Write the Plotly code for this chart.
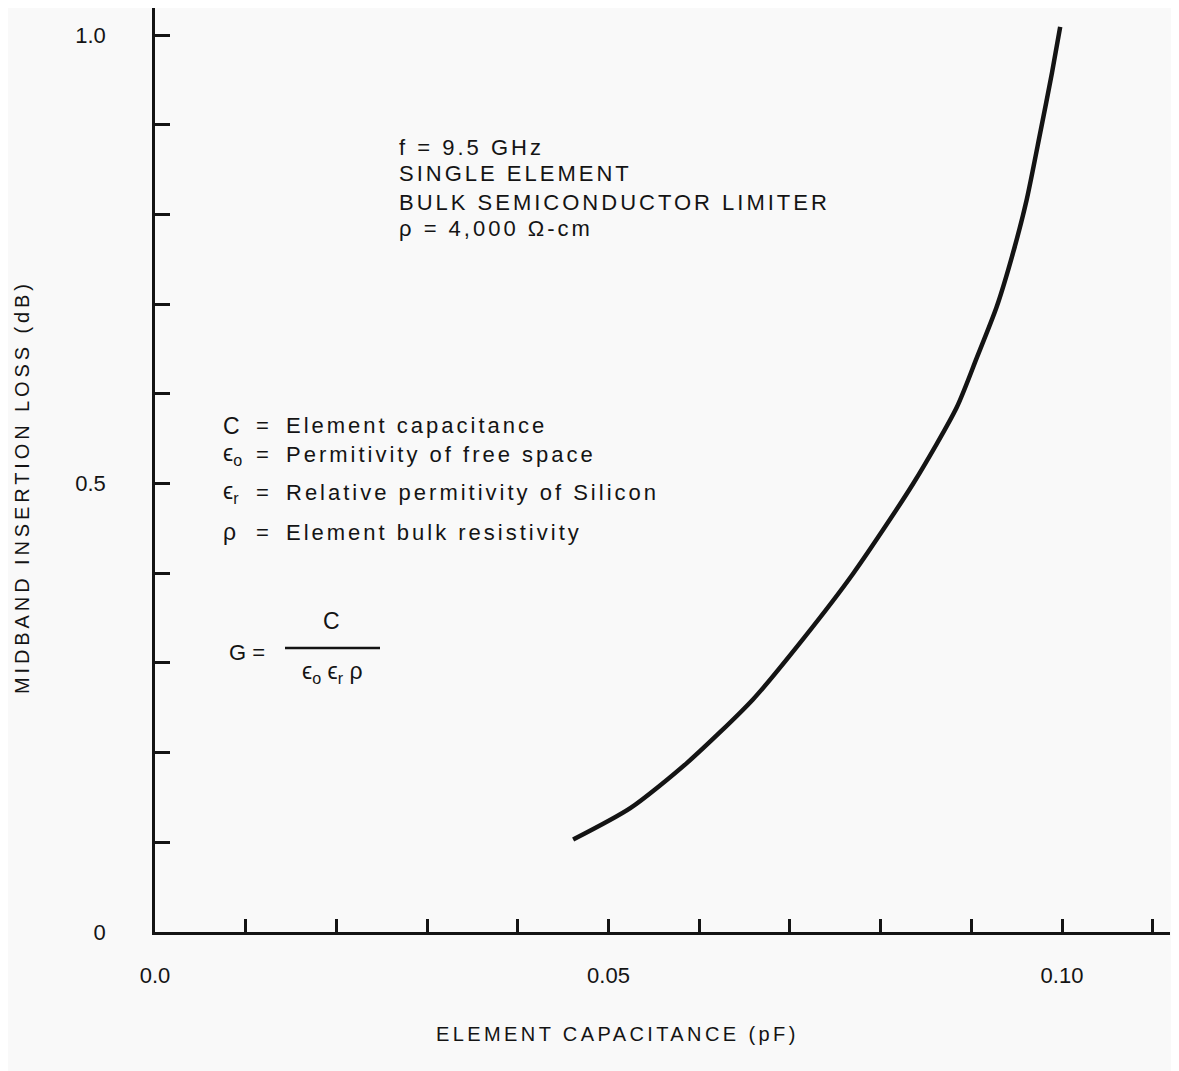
import plotly.graph_objects as go

# ---- data ----
capacitance_pf = [0.0461, 0.0524, 0.0586, 0.0659, 0.0714, 0.0770, 0.0836, 0.0884,
                  0.0906, 0.0928, 0.0946, 0.0961, 0.0976, 0.0989, 0.0998]
insertion_loss_db = [0.103, 0.138, 0.188, 0.259, 0.326, 0.400, 0.500, 0.585,
                     0.640, 0.697, 0.757, 0.816, 0.891, 0.958, 1.009]

x_tick_vals = [0.0, 0.05, 0.10]
x_tick_text = ["0.0", "0.05", "0.10"]
y_tick_vals = [0.0, 0.5, 1.0]
y_tick_text = ["0", "0.5", "1.0"]

info_lines = ["f = 9.5 GHz", "SINGLE ELEMENT", "BULK SEMICONDUCTOR LIMITER", "ρ = 4,000 Ω-cm"]
legend_symbols = ["C", "ϵ<sub>o</sub>", "ϵ<sub>r</sub>", "ρ"]
legend_texts = ["Element capacitance", "Permitivity of free space",
                "Relative permitivity of Silicon", "Element bulk resistivity"]

x_title = "ELEMENT CAPACITANCE (pF)"
y_title = "MIDBAND INSERTION LOSS (dB)"

# ---- layout geometry (reference pixels; page body adds an 8px offset) ----
W, H = 1179, 1071
OFF = 8
L, R, T, B = 155, 1170, 8, 932
FONT = "Liberation Sans"
INK = "#141414"
BG = "#f9f9f9"


def px(x):
    return (x - L) / (R - L)


def py(y):
    return (B - y) / (B - T)


def sp(text, ls=3):
    return f'<span style="letter-spacing:{ls}px">{text}</span>'


fig = go.Figure()
fig.add_trace(go.Scatter(
    x=capacitance_pf, y=insertion_loss_db, mode="lines",
    line=dict(color=INK, width=4.5, shape="spline", smoothing=0.7),
    hoverinfo="skip", showlegend=False,
))

annotations = []
# top info block
info_y = [148, 174, 202, 229]
for txt, yy in zip(info_lines, info_y):
    annotations.append(dict(x=px(397), y=py(yy), xref="paper", yref="paper",
                            text=sp(txt, 3.0), showarrow=False, xanchor="left", yanchor="middle",
                            font=dict(family=FONT, size=22, color=INK)))

# symbol legend
leg_y = [426, 455, 492, 532]
for sym, txt, yy in zip(legend_symbols, legend_texts, leg_y):
    annotations.append(dict(x=px(221), y=py(yy), xref="paper", yref="paper",
                            text=sym, showarrow=False, xanchor="left", yanchor="middle",
                            font=dict(family=FONT, size=23, color=INK)))
    annotations.append(dict(x=px(254), y=py(yy), xref="paper", yref="paper",
                            text="=", showarrow=False, xanchor="left", yanchor="middle",
                            font=dict(family=FONT, size=22, color=INK)))
    annotations.append(dict(x=px(284), y=py(yy), xref="paper", yref="paper",
                            text=sp(txt, 3.0), showarrow=False, xanchor="left", yanchor="middle",
                            font=dict(family=FONT, size=22, color=INK)))

# formula G = C / (eps_o eps_r rho)
annotations.append(dict(x=px(227), y=py(652), xref="paper", yref="paper",
                        text="G =", showarrow=False, xanchor="left", yanchor="middle",
                        font=dict(family=FONT, size=22, color=INK)))
annotations.append(dict(x=px(331), y=py(621), xref="paper", yref="paper",
                        text="C", showarrow=False, xanchor="center", yanchor="middle",
                        font=dict(family=FONT, size=23, color=INK)))
annotations.append(dict(x=px(332), y=py(672), xref="paper", yref="paper",
                        text="ϵ<sub>o</sub> ϵ<sub>r</sub> ρ", showarrow=False,
                        xanchor="center", yanchor="middle",
                        font=dict(family=FONT, size=23, color=INK)))

# axis titles
annotations.append(dict(x=px(22), y=py(487), xref="paper", yref="paper",
                        text=sp(y_title, 3.9), textangle=-90, showarrow=False,
                        xanchor="center", yanchor="middle",
                        font=dict(family=FONT, size=20, color=INK)))
annotations.append(dict(x=px(617), y=py(1034), xref="paper", yref="paper",
                        text=sp(x_title, 3.4), showarrow=False,
                        xanchor="center", yanchor="middle",
                        font=dict(family=FONT, size=20, color=INK)))

shapes = [dict(type="line", xref="paper", yref="paper",
               x0=px(285), x1=px(380), y0=py(648), y1=py(648),
               line=dict(color=INK, width=2.5))]

x_max = (R - L) / 90.7 * 0.01
y_max = (B - T) / 897.0

fig.update_layout(
    width=W, height=H,
    margin=dict(l=L - OFF, r=W - (R - OFF), t=T - OFF, b=H - (B - OFF)),
    paper_bgcolor=BG, plot_bgcolor=BG,
    showlegend=False,
    annotations=annotations, shapes=shapes,
    xaxis=dict(range=[0, x_max], showline=True, linecolor=INK, linewidth=2.5,
               showgrid=False, zeroline=False,
               tickvals=x_tick_vals, ticktext=x_tick_text,
               ticks="inside", ticklen=13, tickwidth=2.5, tickcolor=INK,
               minor=dict(dtick=0.01, tick0=0, ticks="inside", ticklen=13,
                          tickwidth=2.5, tickcolor=INK, showgrid=False),
               ticklabelstandoff=22,
               tickfont=dict(family=FONT, size=22, color=INK)),
    yaxis=dict(range=[0, y_max], showline=True, linecolor=INK, linewidth=2.5,
               showgrid=False, zeroline=False,
               tickvals=y_tick_vals, ticktext=y_tick_text,
               ticks="inside", ticklen=15, tickwidth=2.5, tickcolor=INK,
               minor=dict(dtick=0.1, tick0=0, ticks="inside", ticklen=15,
                          tickwidth=2.5, tickcolor=INK, showgrid=False),
               ticklabelstandoff=42,
               tickfont=dict(family=FONT, size=22, color=INK)),
)

fig.write_html("out.html")
